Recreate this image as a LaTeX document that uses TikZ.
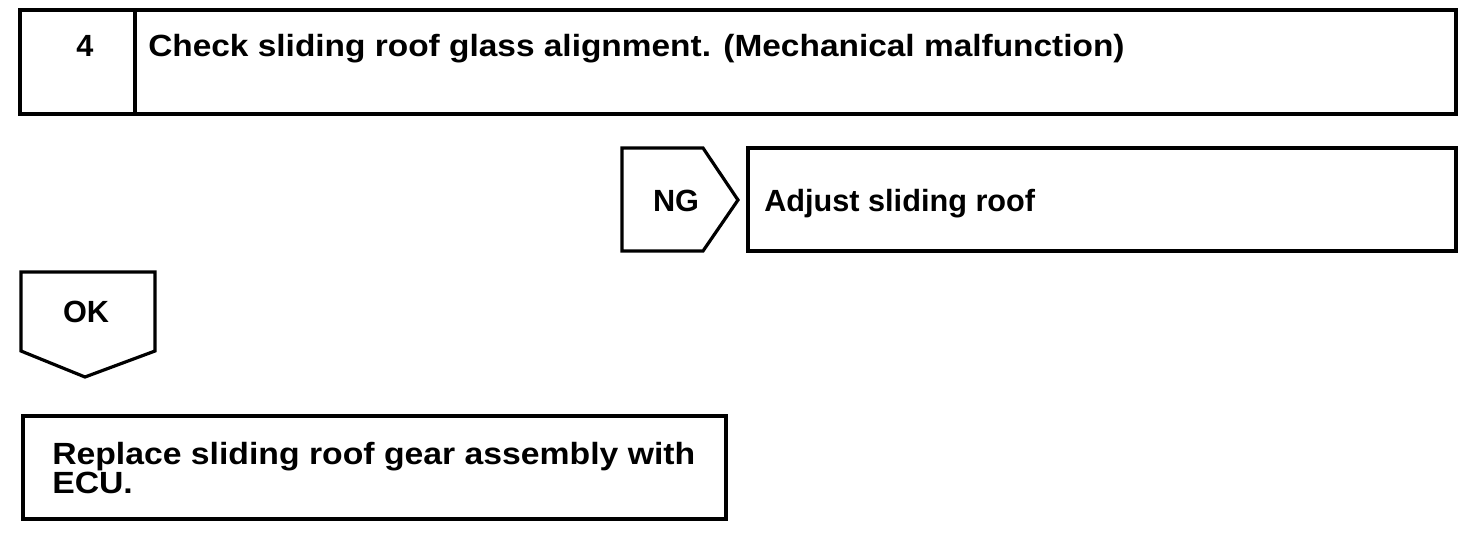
\documentclass[tikz,border=0pt]{standalone}
\usepackage{fontspec}
\setmainfont{Liberation Sans}
\newfontfamily\widefont[FakeStretch=1.09]{Liberation Sans}
\newfontfamily\widerfont[FakeStretch=1.10]{Liberation Sans}
\begin{document}
\begin{tikzpicture}[x=0.75pt,y=-0.75pt,
  frame/.style={draw=black,line width=2.4pt,line join=miter},
  lbl/.style={inner sep=0pt,anchor=base,font=\fontsize{23}{26}\selectfont\bfseries},
  txt/.style={inner sep=0pt,anchor=base west,font=\fontsize{23}{26}\selectfont\bfseries}]
\useasboundingbox (0,0) rectangle (1472,550);
% step box
\draw[frame] (20,10) rectangle (1456,114);
\draw[frame] (135,10) -- (135,114);
\node[lbl] (num) at (85,56) {4};
\node[txt,font=\fontsize{23}{26}\widefont\bfseries] (title) at (148,56) {Check sliding roof glass alignment. (Mechanical malfunction)};
% NG
\draw[frame] (622,148) -- (703,148) -- (738,200) -- (703,251) -- (622,251) -- cycle;
\node[lbl] (ng) at (676,211) {NG};
\draw[frame] (748,148) rectangle (1456,251);
\node[txt] (adjust) at (764,211) {Adjust sliding roof};
% OK
\draw[frame] (21,272) -- (155,272) -- (155,351) -- (85,377) -- (21,351) -- cycle;
\node[lbl] (ok) at (86,322) {OK};
% replace
\draw[frame] (23,416) rectangle (726,519);
\node[txt,font=\fontsize{23}{26}\widerfont\bfseries] (rep1) at (52,464) {Replace sliding roof gear assembly with};
\node[txt,font=\fontsize{23}{26}\widerfont\bfseries] (rep2) at (52,493) {ECU.};
\end{tikzpicture}
\end{document}
